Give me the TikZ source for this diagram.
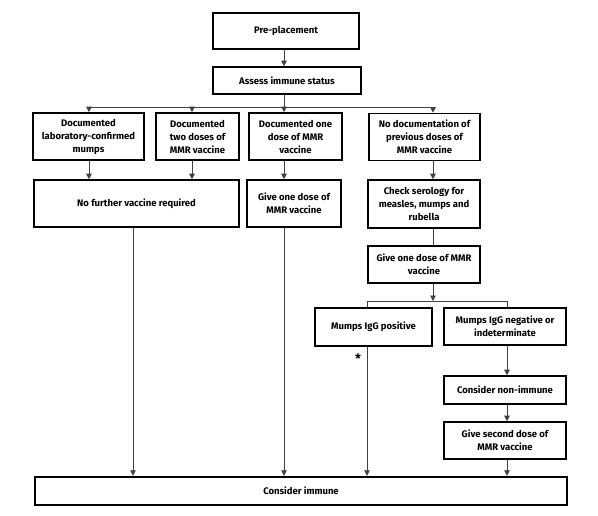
\documentclass[tikz,border=0pt]{standalone}
\usepackage{fontspec}
\setmainfont{Fira Sans}
\usetikzlibrary{arrows.meta,calc}
\tikzset{
  box/.style={draw=black,line width=1.6pt,fill=white,align=center,inner sep=2pt,
    font=\fontsize{9.5}{13}\selectfont\bfseries},
  conn/.style={draw=black!75,line width=0.8pt},
  arr/.style={conn,-{Triangle[length=5.5pt,width=5.5pt]}},
}
\begin{document}
\begin{tikzpicture}[x=1pt,y=-1pt]
\useasboundingbox[fill=white] (0,0) rectangle (598,515);
% nodes
\node[box,minimum width=146,minimum height=36] (pre) at (286,31) {Pre-placement};
\node[box,minimum width=148,minimum height=27] (assess) at (287,80.5) {Assess immune status};
\node[box,minimum width=111,minimum height=47] (b1) at (88.5,136.5) {Documented\\laboratory-confirmed\\mumps};
\node[box,minimum width=83,minimum height=47] (b2) at (197.5,136.5) {Documented\\two doses of\\MMR vaccine};
\node[box,minimum width=93,minimum height=47] (b3) at (295.5,136.5) {Documented one\\dose of MMR\\vaccine};
\node[box,minimum width=111,minimum height=47] (b4) at (424.5,137) {No documentation of\\previous doses of\\MMR vaccine};
\node[box,minimum width=205,minimum height=47] (nf) at (136.5,203.5) {No further vaccine required};
\node[box,minimum width=94,minimum height=47] (g1) at (294,203.5) {Give one dose of\\MMR vaccine};
\node[box,minimum width=112,minimum height=48] (cs) at (424,204) {Check serology for\\measles, mumps and\\rubella};
\node[box,minimum width=112,minimum height=37] (g2) at (424,264.5) {Give one dose of MMR\\vaccine};
\node[box,minimum width=117,minimum height=38] (pos) at (373.5,327) {Mumps IgG positive};
\node[box,minimum width=122,minimum height=37] (neg) at (505,326.5) {Mumps IgG negative or\\indeterminate};
\node[box,minimum width=122,minimum height=28] (cn) at (505,390) {Consider non-immune};
\node[box,minimum width=122,minimum height=37] (g3) at (505,440.5) {Give second dose of\\MMR vaccine};
\node[box,line width=2.4pt,minimum width=532,minimum height=28] (ci) at (301,491) {Consider immune};
\node[font=\fontsize{13}{13}\selectfont\bfseries,inner sep=0pt,anchor=north] (star) at (358,354) {*};
% column coordinates
\coordinate (xa) at (89,0);
\coordinate (xb) at (192,0);
\coordinate (xc) at (284,0);
\coordinate (xd) at (433,0);
\coordinate (xe) at (133,0);
\coordinate (xf) at (367,0);
\coordinate (xg) at (507,0);
\coordinate (h1) at (0,107);
\coordinate (h2) at (0,301);
% connectors
\draw[arr] (pre.south -| xc) -- (assess.north -| xc);
\draw[conn] (assess.south -| xc) -- (h1 -| xc);
\draw[conn] (h1 -| xa) -- (h1 -| xd);
\draw[arr] (h1 -| xa) -- (b1.north -| xa);
\draw[arr] (h1 -| xb) -- (b2.north -| xb);
\draw[arr] (h1 -| xc) -- (b3.north -| xc);
\draw[arr] (h1 -| xd) -- (b4.north -| xd);
\draw[arr] (b1.south -| xa) -- (nf.north -| xa);
\draw[arr] (b2.south -| xb) -- (nf.north -| xb);
\draw[arr] (b3.south -| xc) -- (g1.north -| xc);
\draw[arr] (b4.south -| xd) -- (cs.north -| xd);
\draw[conn] (cs.south -| xd) -- (g2.north -| xd);
\draw[arr] (g2.south -| xd) -- (h2 -| xd);
\draw[conn] (h2 -| xf) -- (h2 -| xg);
\draw[conn] (h2 -| xf) -- (pos.north -| xf);
\draw[conn] (h2 -| xg) -- (neg.north -| xg);
\draw[arr] (nf.south -| xe) -- (ci.north -| xe);
\draw[arr] (g1.south -| xc) -- (ci.north -| xc);
\draw[arr] (pos.south -| xf) -- (ci.north -| xf);
\draw[arr] (neg.south -| xg) -- (cn.north -| xg);
\draw[arr] (cn.south -| xg) -- (g3.north -| xg);
\draw[arr] (g3.south -| xg) -- (ci.north -| xg);
\end{tikzpicture}
\end{document}
